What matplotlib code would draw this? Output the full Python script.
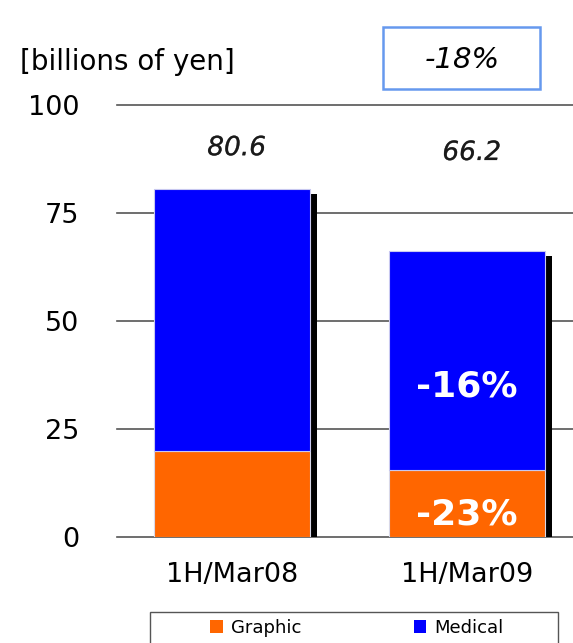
import numpy as np
import matplotlib
matplotlib.use("Agg")
import matplotlib.pyplot as plt
import matplotlib.patheffects as pe
from matplotlib.patches import Rectangle

# Data ------------------------------------------------------------------
periods = ["1H/Mar08", "1H/Mar09"]
graphic = [19.9, 15.6]
medical = [60.7, 50.6]
totals = ["80.6", "66.2"]
medical_change = [None, "-16%"]
graphic_change = [None, "-23%"]
total_change = "-18%"
yticks = [0, 25, 50, 75, 100]

c_graphic = "#ff6600"
c_medical = "#0000ff"

plt.rcParams["font.family"] = ["DejaVu Sans"]

# Plotting --------------------------------------------------------------
fig = plt.figure(figsize=(5.73, 6.43), dpi=100)
ax = fig.add_axes([0.204, 0.1649, 0.796, 0.6718])

x = np.arange(len(periods))
width = 0.664
sum_vals = np.array(graphic) + np.array(medical)

# shadow on the right of each bar
ax.bar(x + width / 2, sum_vals - 1.2, width=0.031, align="edge",
       color="black", zorder=2)

ax.bar(x, graphic, width=width, color=c_graphic, edgecolor="#d8d8e8",
       linewidth=0.8, label="Graphic", zorder=3)
ax.bar(x, medical, width=width, bottom=graphic, color=c_medical,
       edgecolor="#c8c8f0", linewidth=0.8, label="Medical", zorder=3)

ax.set_xlim(-0.489, 1.451)
ax.set_ylim(0, 100)
ax.set_yticks(yticks)
ax.set_yticklabels([str(t) for t in yticks], fontsize=19.5)
ax.set_xticks(x)
ax.set_xticklabels(periods, fontsize=19.5)
ax.tick_params(axis="x", length=0, pad=18)
ax.tick_params(axis="y", length=0, pad=27)

for t in yticks:
    ax.axhline(t, color="#555555", linewidth=1.2, zorder=1, clip_on=False)
for s in ax.spines.values():
    s.set_visible(False)

# Text annotations
total_y = [90, 88.9]
for i in range(len(periods)):
    t = ax.text(x[i] + 0.02, total_y[i], totals[i], ha="center", va="center",
                fontsize=19, style="italic", color="#1a1a1a")
    t.set_path_effects([pe.withStroke(linewidth=0.3, foreground="#777777")])
    if medical_change[i]:
        ax.text(x[i], graphic[i] + medical[i] * 0.38, medical_change[i],
                ha="center", va="center", fontsize=26, fontweight="bold",
                color="white", zorder=4)
    if graphic_change[i]:
        ax.text(x[i], graphic[i] * 0.33, graphic_change[i],
                ha="center", va="center", fontsize=26, fontweight="bold",
                color="white", zorder=4)

fig.text(20 / 573, 1 - 62 / 643, "[billions of yen]", fontsize=20,
         ha="left", va="center")

box = Rectangle((383 / 573, 1 - 89 / 643), 157 / 573, 62 / 643,
                transform=fig.transFigure, facecolor="white",
                edgecolor="#6699ee", linewidth=1.8)
fig.patches.append(box)
fig.text(462 / 573, 1 - 60 / 643, total_change, fontsize=21, style="italic",
         ha="center", va="center")

# legend frame, cut by the bottom of the figure
frame = Rectangle((150 / 573, -0.02), 408 / 573, 1 - 612 / 643 + 0.02,
                  transform=fig.transFigure, facecolor="white",
                  edgecolor="#555555", linewidth=1.0)
fig.patches.append(frame)
leg = fig.legend(loc="center", bbox_to_anchor=(357 / 573, 1 - 628 / 643),
                 ncol=2, fontsize=13, frameon=False, handlelength=0.7,
                 handleheight=0.7, handletextpad=0.45, columnspacing=6.2,
                 borderaxespad=0, borderpad=0)
for h in leg.legend_handles:
    h.set_edgecolor("none")

fig.savefig("out.png", dpi=100)
